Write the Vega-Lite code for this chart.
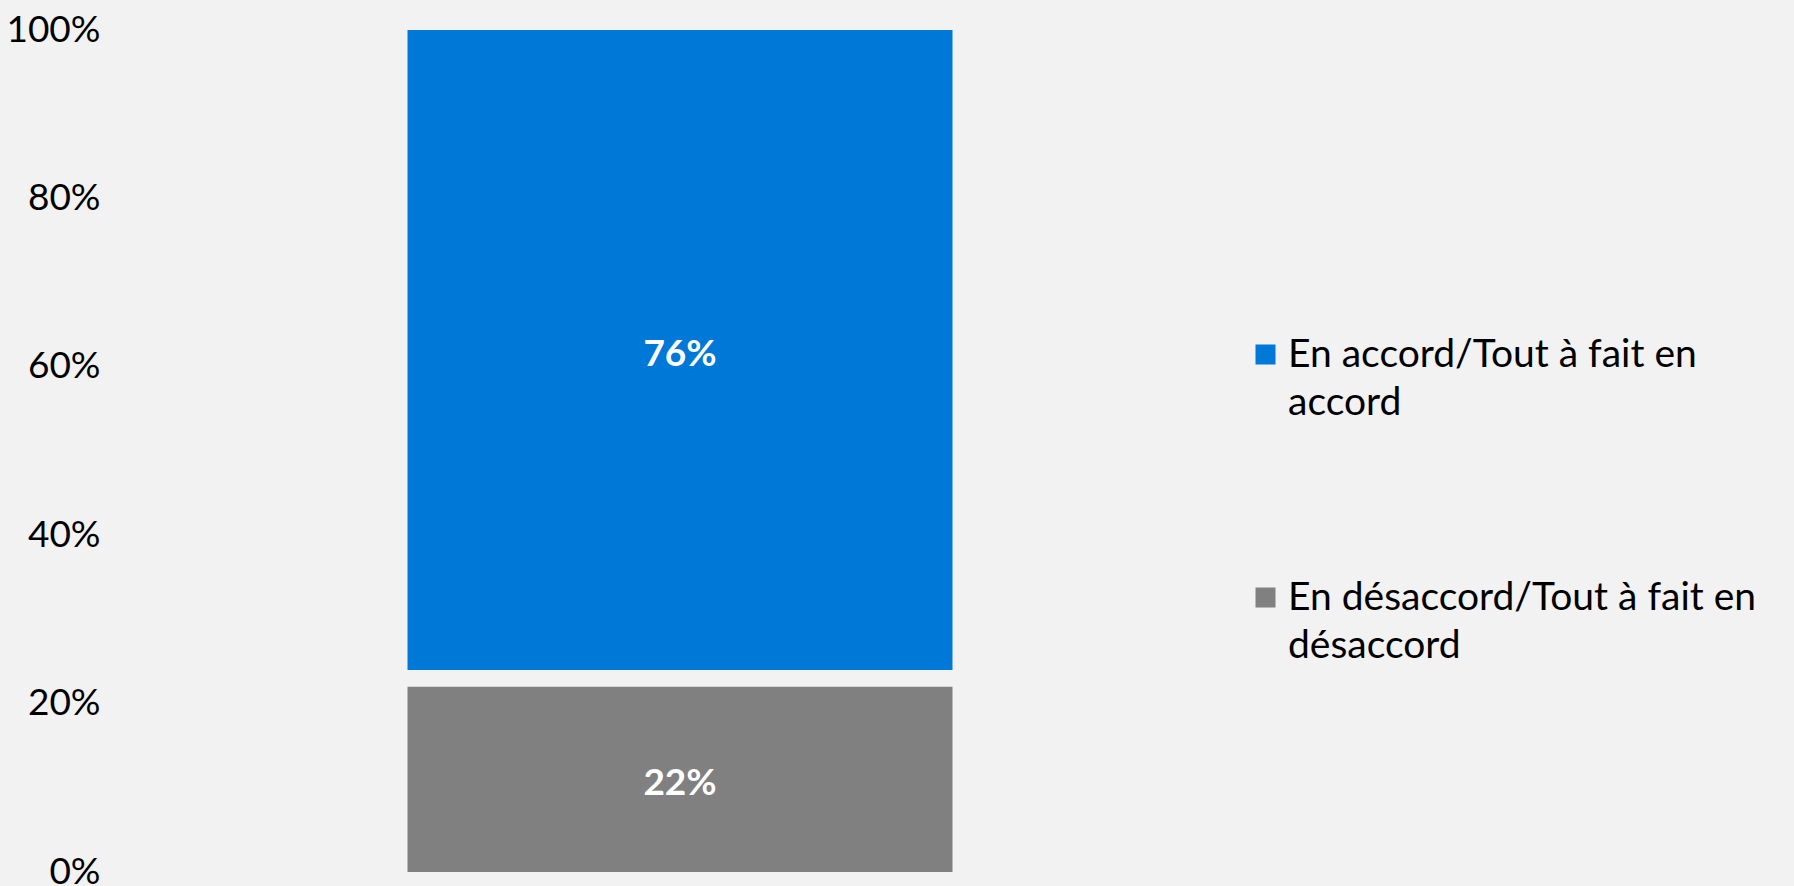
{
  "$schema": "https://vega.github.io/schema/vega-lite/v6.json",
  "width": 1130,
  "height": 842,
  "autosize": "none",
  "padding": {"left": 115, "top": 30, "right": 549, "bottom": 14},
  "background": "#f2f2f2",
  "config": {"view": {"stroke": null}, "font": "Lato"},
  "data": {
    "values": [
      {"groupe": "Total", "reponse": "En accord/Tout à fait en accord", "valeur": 76, "debut": 24, "fin": 100},
      {"groupe": "Total", "reponse": "En désaccord/Tout à fait en désaccord", "valeur": 22, "debut": 0, "fin": 22}
    ]
  },
  "encoding": {
    "x": {"field": "groupe", "type": "nominal", "axis": null}
  },
  "layer": [
    {
      "mark": {"type": "bar", "width": 545},
      "encoding": {
        "y": {
          "field": "debut",
          "type": "quantitative",
          "scale": {"domain": [0, 100], "nice": false},
          "axis": {
            "values": [0, 20, 40, 60, 80, 100],
            "labelExpr": "datum.value + '%'",
            "grid": false,
            "domain": false,
            "ticks": false,
            "labelPadding": 15,
            "labelFontSize": 37,
            "labelColor": "#000000",
            "labelFont": "Lato",
            "title": null
          }
        },
        "y2": {"field": "fin"},
        "color": {
          "field": "reponse",
          "type": "nominal",
          "scale": {
            "domain": ["En accord/Tout à fait en accord", "En désaccord/Tout à fait en désaccord"],
            "range": ["#0078d7", "#808080"]
          },
          "legend": {
            "orient": "none",
            "legendX": 1131,
            "legendY": 305,
            "title": null,
            "padding": 0,
            "symbolType": "square",
            "symbolSize": 400,
            "symbolStrokeWidth": 0,
            "labelFontSize": 39,
            "labelColor": "#000000",
            "labelFont": "Lato",
            "labelLimit": 0,
            "labelOffset": 3,
            "rowPadding": 155,
            "labelExpr": "datum.label == 'En accord/Tout à fait en accord' ? ['En accord/Tout à fait en', 'accord'] : ['En désaccord/Tout à fait en', 'désaccord']",
            "encode": {"labels": {"update": {"lineHeight": {"value": 48}}}}
          }
        }
      }
    },
    {
      "transform": [
        {"calculate": "(datum.debut + datum.fin) / 2", "as": "milieu"},
        {"calculate": "datum.valeur + '%'", "as": "etiquette"}
      ],
      "mark": {"type": "text", "color": "#ffffff", "fontWeight": "bold", "fontSize": 37, "baseline": "middle", "font": "Lato", "dy": 5},
      "encoding": {
        "y": {"field": "milieu", "type": "quantitative"},
        "text": {"field": "etiquette", "type": "nominal"}
      }
    }
  ]
}
